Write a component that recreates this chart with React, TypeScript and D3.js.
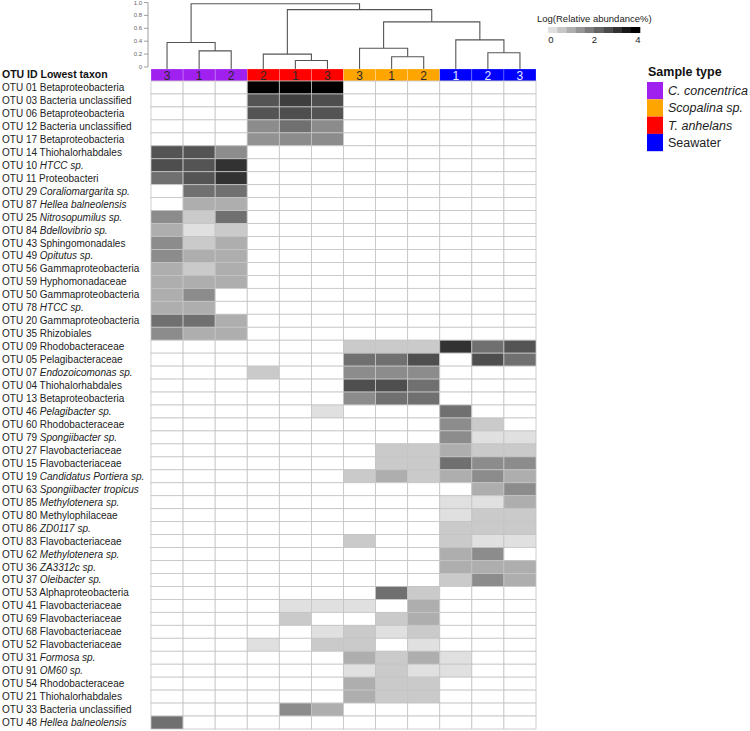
import * as d3 from 'd3';

const _ = null;

// columns: sample type + replicate, in dendrogram order
const colType = ['C', 'C', 'C', 'T', 'T', 'T', 'S', 'S', 'S', 'W', 'W', 'W'];
const colRep = ['3', '1', '2', '2', '1', '3', '3', '1', '2', '1', '2', '3'];

const typeKeys = ['C', 'S', 'T', 'W'];
const typeNames = ['C. concentrica', 'Scopalina sp.', 'T. anhelans', 'Seawater'];
const typeItalic = [true, true, true, false];
const typeColors = ['#a020f0', '#ffa500', '#ff0000', '#0000ff'];

// dendrogram merges (c = column leaf, m = earlier merge)
const mergeLeft = ['c1', 'c0', 'c4', 'c3', 'c7', 'c6', 'c10', 'c9', 'm5', 'm3', 'm1'];
const mergeRight = ['c2', 'm0', 'c5', 'm2', 'c8', 'm4', 'c11', 'm6', 'm7', 'm8', 'm9'];
const mergeHeight = [0.25, 0.38, 0.10, 0.20, 0.16, 0.29, 0.22, 0.42, 0.70, 0.89, 0.98];
const dendroTicks = [0, 0.2, 0.4, 0.6, 0.8, 1.0];

const otuIds = [
	'OTU 01', 'OTU 03', 'OTU 06', 'OTU 12', 'OTU 17', 'OTU 14', 'OTU 10', 'OTU 11', 'OTU 29', 'OTU 87',
	'OTU 25', 'OTU 84', 'OTU 43', 'OTU 49', 'OTU 56', 'OTU 59', 'OTU 50', 'OTU 78', 'OTU 20', 'OTU 35',
	'OTU 09', 'OTU 05', 'OTU 07', 'OTU 04', 'OTU 13', 'OTU 46', 'OTU 60', 'OTU 79', 'OTU 27', 'OTU 15',
	'OTU 19', 'OTU 63', 'OTU 85', 'OTU 80', 'OTU 86', 'OTU 83', 'OTU 62', 'OTU 36', 'OTU 37', 'OTU 53',
	'OTU 41', 'OTU 69', 'OTU 68', 'OTU 52', 'OTU 31', 'OTU 91', 'OTU 54', 'OTU 21', 'OTU 33', 'OTU 48'
];
const taxa = [
	'Betaproteobacteria', 'Bacteria unclassified', 'Betaproteobacteria', 'Bacteria unclassified', 'Betaproteobacteria',
	'Thiohalorhabdales', 'HTCC sp.', 'Proteobacteri', 'Coraliomargarita sp.', 'Hellea balneolensis',
	'Nitrosopumilus sp.', 'Bdellovibrio sp.', 'Sphingomonadales', 'Opitutus sp.', 'Gammaproteobacteria',
	'Hyphomonadaceae', 'Gammaproteobacteria', 'HTCC sp.', 'Gammaproteobacteria', 'Rhizobiales',
	'Rhodobacteraceae', 'Pelagibacteraceae', 'Endozoicomonas sp.', 'Thiohalorhabdales', 'Betaproteobacteria',
	'Pelagibacter sp.', 'Rhodobacteraceae', 'Spongiibacter sp.', 'Flavobacteriaceae', 'Flavobacteriaceae',
	'Candidatus Portiera sp.', 'Spongiibacter tropicus', 'Methylotenera sp.', 'Methylophilaceae', 'ZD0117 sp.',
	'Flavobacteriaceae', 'Methylotenera sp.', 'ZA3312c sp.', 'Oleibacter sp.', 'Alphaproteobacteria',
	'Flavobacteriaceae', 'Flavobacteriaceae', 'Flavobacteriaceae', 'Flavobacteriaceae', 'Formosa sp.',
	'OM60 sp.', 'Rhodobacteraceae', 'Thiohalorhabdales', 'Bacteria unclassified', 'Hellea balneolensis'
];
const taxonItalic = [
	0, 0, 0, 0, 0, 0, 1, 0, 1, 1,
	1, 1, 0, 1, 0, 0, 0, 1, 0, 0,
	0, 0, 1, 0, 0, 1, 0, 1, 0, 0,
	1, 1, 1, 0, 1, 0, 1, 1, 1, 0,
	0, 0, 0, 0, 1, 1, 0, 0, 0, 1
];

// Log(relative abundance %), null = absent
const abundance = [
	[_, _, _, 4.0, 4.0, 4.0, _, _, _, _, _, _],
	[_, _, _, 2.5, 2.9, 2.6, _, _, _, _, _, _],
	[_, _, _, 2.5, 2.6, 2.5, _, _, _, _, _, _],
	[_, _, _, 1.5, 2.0, 1.5, _, _, _, _, _, _],
	[_, _, _, 1.4, 1.5, 1.5, _, _, _, _, _, _],
	[2.5, 2.5, 1.5, _, _, _, _, _, _, _, _, _],
	[2.6, 2.5, 3.1, _, _, _, _, _, _, _, _, _],
	[2.0, 2.5, 3.1, _, _, _, _, _, _, _, _, _],
	[_, 2.0, 2.0, _, _, _, _, _, _, _, _, _],
	[_, 0.9, 0.9, _, _, _, _, _, _, _, _, _],
	[1.5, 0.4, 2.0, _, _, _, _, _, _, _, _, _],
	[0.9, 0.0, 0.4, _, _, _, _, _, _, _, _, _],
	[1.5, 0.4, 0.9, _, _, _, _, _, _, _, _, _],
	[1.5, 0.9, 0.9, _, _, _, _, _, _, _, _, _],
	[0.9, 0.4, 0.9, _, _, _, _, _, _, _, _, _],
	[0.9, 0.9, 0.9, _, _, _, _, _, _, _, _, _],
	[0.9, 1.5, _, _, _, _, _, _, _, _, _, _],
	[0.9, 0.9, _, _, _, _, _, _, _, _, _, _],
	[2.0, 2.0, 0.9, _, _, _, _, _, _, _, _, _],
	[1.5, 0.9, 0.9, _, _, _, _, _, _, _, _, _],
	[_, _, _, _, _, _, 0.4, 0.4, 0.4, 3.1, 2.0, 2.5],
	[_, _, _, _, _, _, 2.0, 2.0, 2.6, _, 2.6, 2.0],
	[_, _, _, 0.4, _, _, 1.5, 1.5, 1.5, _, _, _],
	[_, _, _, _, _, _, 2.6, 2.6, 2.0, _, _, _],
	[_, _, _, _, _, _, 1.5, 2.0, 2.0, _, _, _],
	[_, _, _, _, _, 0.0, _, _, _, 2.0, _, _],
	[_, _, _, _, _, _, _, _, _, 1.5, 0.4, _],
	[_, _, _, _, _, _, _, _, _, 1.5, 0.0, 0.0],
	[_, _, _, _, _, _, _, 0.4, 0.4, 0.9, 0.4, 0.4],
	[_, _, _, _, _, _, _, 0.4, 0.4, 2.0, 1.5, 1.5],
	[_, _, _, _, _, _, 0.4, 0.9, 0.4, 0.9, 1.5, 0.9],
	[_, _, _, _, _, _, _, _, _, _, 0.9, 1.5],
	[_, _, _, _, _, _, _, _, _, 0.0, 0.0, 0.9],
	[_, _, _, _, _, _, _, _, _, 0.0, 0.4, 0.4],
	[_, _, _, _, _, _, _, _, _, 0.4, 0.4, 0.4],
	[_, _, _, _, _, _, 0.4, _, _, 0.4, 0.0, 0.0],
	[_, _, _, _, _, _, _, _, _, 0.9, 1.5, _],
	[_, _, _, _, _, _, _, _, _, 0.9, 0.9, 0.9],
	[_, _, _, _, _, _, _, _, _, 0.4, 1.5, 0.9],
	[_, _, _, _, _, _, _, 2.0, 0.4, _, _, _],
	[_, _, _, _, 0.0, 0.0, 0.0, _, 0.9, _, _, _],
	[_, _, _, _, 0.4, _, _, 0.4, 0.9, _, _, _],
	[_, _, _, _, _, 0.0, 0.4, 0.0, 0.4, _, _, _],
	[_, _, _, 0.0, _, 0.4, 0.4, _, 0.0, _, _, _],
	[_, _, _, _, _, _, 0.9, 0.4, 0.9, 0.0, _, _],
	[_, _, _, _, _, _, 0.0, 0.4, 0.0, 0.0, _, _],
	[_, _, _, _, _, _, 0.9, 0.4, 0.4, _, _, _],
	[_, _, _, _, _, _, 0.9, 0.4, 0.4, _, _, _],
	[_, _, _, _, 1.5, 0.9, _, _, _, _, _, _],
	[2.0, _, _, _, _, _, _, _, _, _, _, _]
];

const legendTicks = [0, 2, 4];
const legendSteps = d3.range(10).map((i) => i * 4 / 9);

function App(){
	const font = '"Liberation Sans", Arial, sans-serif'
		, x = d3.scaleBand<number>().domain(d3.range(colType.length)).range([151, 536])
		, y = d3.scaleBand<number>().domain(d3.range(otuIds.length)).range([81, 729])
		, hy = d3.scaleLinear().domain([0, 1]).range([67, 2.5])
		, gray = d3.scaleLinear<string>().domain([0, 4]).range(['#e0e0e0', '#000000']).clamp(true)
		, typeColor = d3.scaleOrdinal<string, string>().domain(typeKeys).range(typeColors)
		, barTop = 69
		, barBottom = 81
		, lx = d3.scaleBand<number>().domain(d3.range(legendSteps.length)).range([548, 640])
		, lt = d3.scaleLinear().domain([0, 4]).range([551, 638])
		;

	// dendrogram node positions
	const pos: Record<string, {x: number, y: number}> = {};
	colType.forEach((t, i) => {
		pos['c' + i] = {x: x(i)! + x.bandwidth() / 2, y: barTop};
	});
	const links = mergeHeight.map((h, i) => {
		const a = pos[mergeLeft[i]]
			, b = pos[mergeRight[i]]
			, yy = hy(h)
			;
		pos['m' + i] = {x: (a.x + b.x) / 2, y: yy};
		return `M${a.x},${a.y}V${yy}H${b.x}V${b.y}`;
	});

	return (<svg width={750} height={731} style={{position: 'absolute', left: 0, top: 0, background: '#fff'}}
	             fontFamily={font}>
		{/* dendrogram axis */}
		<g fontSize={6} fill="#666">
			<line x1={148} x2={148} y1={hy(1)} y2={hy(0)} stroke="#888" strokeWidth={0.8}/>
			{dendroTicks.map((t) => (<g key={t}>
				<line x1={144} x2={148} y1={hy(t)} y2={hy(t)} stroke="#888" strokeWidth={0.8}/>
				<text x={142} y={hy(t) + 2} textAnchor="end">{t === 0 ? '0' : t.toFixed(1)}</text>
			</g>))}
		</g>
		<g fill="none" stroke="#555" strokeWidth={1.1}>
			{links.map((d, i) => (<path key={i} d={d}/>))}
		</g>

		{/* sample colour bar */}
		{colType.map((t, i) => (<g key={i}>
			<rect x={x(i)} y={barTop} width={x.bandwidth()} height={barBottom - barTop}
			      fill={typeColor(t)} stroke="rgba(255,255,255,0.35)" strokeWidth={0.6}/>
			<text x={x(i)! + x.bandwidth() / 2} y={barBottom - 1.5} textAnchor="middle" fontSize={12}
			      fill={t === 'W' ? '#e8ecff' : '#2a2a2a'}>{colRep[i]}</text>
		</g>))}

		{/* header */}
		<text x={2} y={78} fontSize={10.5} fontWeight="bold" fill="#111">OTU ID Lowest taxon</text>

		{/* heatmap */}
		{abundance.map((row, r) => (<g key={r}>
			<text x={2} y={y(r)! + y.bandwidth() / 2 + 3.5} fontSize={10} fill="#222">
				{otuIds[r] + ' '}
				<tspan fontStyle={taxonItalic[r] ? 'italic' : 'normal'}>{taxa[r]}</tspan>
			</text>
			{row.map((v, c) => (<rect key={c} x={x(c)} y={y(r)} width={x.bandwidth()} height={y.bandwidth()}
			                          fill={v === null ? '#ffffff' : gray(v)} stroke="#c4c4c4" strokeWidth={0.8}/>))}
		</g>))}

		{/* abundance legend */}
		<text x={537} y={22} fontSize={9.5} fill="#222">Log(Relative abundance%)</text>
		{legendSteps.map((v, i) => (<rect key={i} x={lx(i)} y={27} width={lx.bandwidth() + 0.3} height={6}
		                                   fill={gray(v)}/>))}
		{legendTicks.map((t) => (<text key={t} x={lt(t)} y={43} fontSize={9.5} textAnchor="middle"
		                               fill="#222">{t}</text>))}

		{/* sample type legend */}
		<text x={648} y={76} fontSize={12.5} fontWeight="bold" fill="#111">Sample type</text>
		{typeKeys.map((k, i) => (<g key={k}>
			<rect x={647} y={82 + i * 17.3} width={16} height={17.3} fill={typeColor(k)}/>
			<text x={668} y={82 + i * 17.3 + 13} fontSize={12.5} fill="#222"
			      fontStyle={typeItalic[i] ? 'italic' : 'normal'}>{typeNames[i]}</text>
		</g>))}
	</svg>);
}

export default App;
